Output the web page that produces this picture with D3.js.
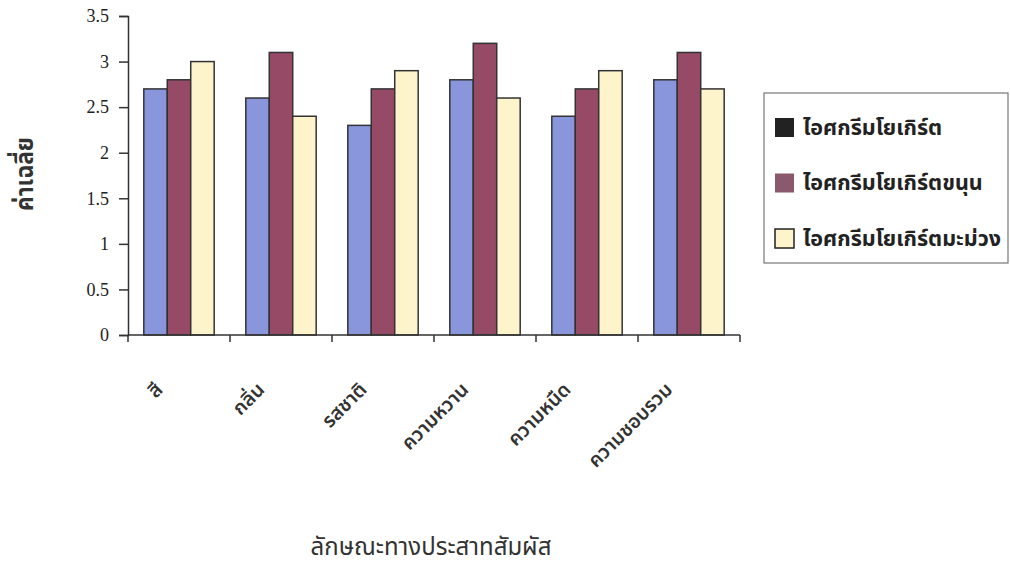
<!DOCTYPE html>
<html>
<head>
<meta charset="utf-8">
<script src="https://cdn.jsdelivr.net/npm/d3@7"></script>
<style>
  html, body { margin: 0; padding: 0; background: #fff; }
  svg { display: block; }
  .thai { font-family: "Noto Sans Thai", "Loma", "Garuda", "Norasi", "Tlwg Typo", "Noto Sans", sans-serif; }
</style>
</head>
<body>
<svg id="chart" width="1010" height="566"></svg>
<script>
const categories = ["สี", "กลิ่น", "รสชาติ", "ความหวาน", "ความหนืด", "ความชอบรวม"];
const seriesNames = ["ไอศกรีมโยเกิร์ต", "ไอศกรีมโยเกิร์ตขนุน", "ไอศกรีมโยเกิร์ตมะม่วง"];
const plainYogurt = [2.7, 2.6, 2.3, 2.8, 2.4, 2.8];
const jackfruitYogurt = [2.8, 3.1, 2.7, 3.2, 2.7, 3.1];
const mangoYogurt = [3.0, 2.4, 2.9, 2.6, 2.9, 2.7];
const yTicks = [0, 0.5, 1, 1.5, 2, 2.5, 3, 3.5];
const yTitle = "ค่าเฉลี่ย";
const xTitle = "ลักษณะทางประสาทสัมผัส";

const barColors = ["#8a96dc", "#964a66", "#fdf4cc"];
const legendColors = ["#222222", "#8a5a6c", "#fdf4cc"];
const seriesValues = [plainYogurt, jackfruitYogurt, mangoYogurt];

const svg = d3.select("#chart");
const pLeft = 128, pRight = 740, pTop = 16, pBottom = 335;

const x = d3.scaleBand().domain(categories).range([pLeft, pRight]).paddingInner(0.31).paddingOuter(0.155);
const xs = d3.scaleBand().domain(d3.range(seriesNames.length)).range([0, x.bandwidth()]);
const y = d3.scaleLinear().domain([0, 3.5]).range([pBottom, pTop]);

// bars
const groups = svg.append("g").selectAll("g").data(categories).join("g")
  .attr("transform", d => `translate(${x(d)},0)`);
groups.selectAll("rect")
  .data((c, ci) => seriesValues.map((s, si) => ({ si, v: s[ci] })))
  .join("rect")
  .attr("x", d => xs(d.si))
  .attr("y", d => y(d.v))
  .attr("width", xs.bandwidth())
  .attr("height", d => y(0) - y(d.v))
  .attr("fill", d => barColors[d.si])
  .attr("stroke", "#333")
  .attr("stroke-width", 1.5);

// y axis
const yAxis = svg.append("g").attr("transform", `translate(${pLeft},0)`)
  .call(d3.axisLeft(y).tickValues(yTicks).tickSize(9).tickPadding(10).tickFormat(d3.format("")));
yAxis.select(".domain").attr("stroke", "#333").attr("stroke-width", 1.5);
yAxis.selectAll(".tick line").attr("stroke", "#333").attr("stroke-width", 1.5);
yAxis.selectAll(".tick text")
  .attr("font-family", "'Liberation Serif', 'Times New Roman', serif")
  .attr("font-size", 18).attr("fill", "#222");

// x axis line with ticks at band boundaries
const xAxisG = svg.append("g");
xAxisG.append("line").attr("x1", pLeft).attr("x2", pRight).attr("y1", pBottom).attr("y2", pBottom)
  .attr("stroke", "#333").attr("stroke-width", 1.5);
const boundaries = d3.range(categories.length + 1).map(i => pLeft + i * (pRight - pLeft) / categories.length);
xAxisG.selectAll("line.tk").data(boundaries).join("line").attr("class", "tk")
  .attr("x1", d => d).attr("x2", d => d).attr("y1", pBottom).attr("y2", pBottom + 7)
  .attr("stroke", "#333").attr("stroke-width", 1.5);

// x labels, rotated -45
svg.append("g").selectAll("text").data(categories).join("text")
  .attr("class", "thai")
  .attr("text-anchor", "end")
  .attr("font-size", 19.5).attr("font-weight", 600)
  .attr("fill", "#333")
  .attr("transform", d => {
    const c = x(d) + x.bandwidth() / 2;
    return `translate(${c - 20},${386}) rotate(-45)`;
  })
  .attr("dy", "0.35em")
  .text(d => d);

// y title
svg.append("text").attr("class", "thai")
  .attr("transform", "translate(24,174) rotate(-90)")
  .attr("text-anchor", "middle").attr("dy", "0.35em")
  .attr("font-size", 25).attr("font-weight", "bold")
  .attr("textLength", 74).attr("lengthAdjust", "spacingAndGlyphs")
  .attr("fill", "#333").text(yTitle);

// x title
svg.append("text").attr("class", "thai")
  .attr("x", 431).attr("y", 555)
  .attr("text-anchor", "middle").attr("font-size", 24)
  .attr("fill", "#333").text(xTitle);

// legend
const lg = svg.append("g");
lg.append("rect").attr("x", 764).attr("y", 93).attr("width", 244).attr("height", 170)
  .attr("fill", "#fff").attr("stroke", "#777").attr("stroke-width", 1.2);
const items = lg.selectAll("g.item").data(seriesNames).join("g").attr("class", "item")
  .attr("transform", (d, i) => `translate(775,${127 + i * 55.5})`);
items.append("rect").attr("x", 0).attr("y", -9).attr("width", 19).attr("height", 19)
  .attr("fill", (d, i) => legendColors[i]).attr("stroke", (d, i) => i === 2 ? "#222" : "none").attr("stroke-width", 1.5);
items.append("text").attr("class", "thai")
  .attr("x", 28).attr("y", 0).attr("dy", "0.35em")
  .attr("font-size", 21.5).attr("font-weight", "bold").attr("fill", "#222")
  .text(d => d);
</script>
</body>
</html>
